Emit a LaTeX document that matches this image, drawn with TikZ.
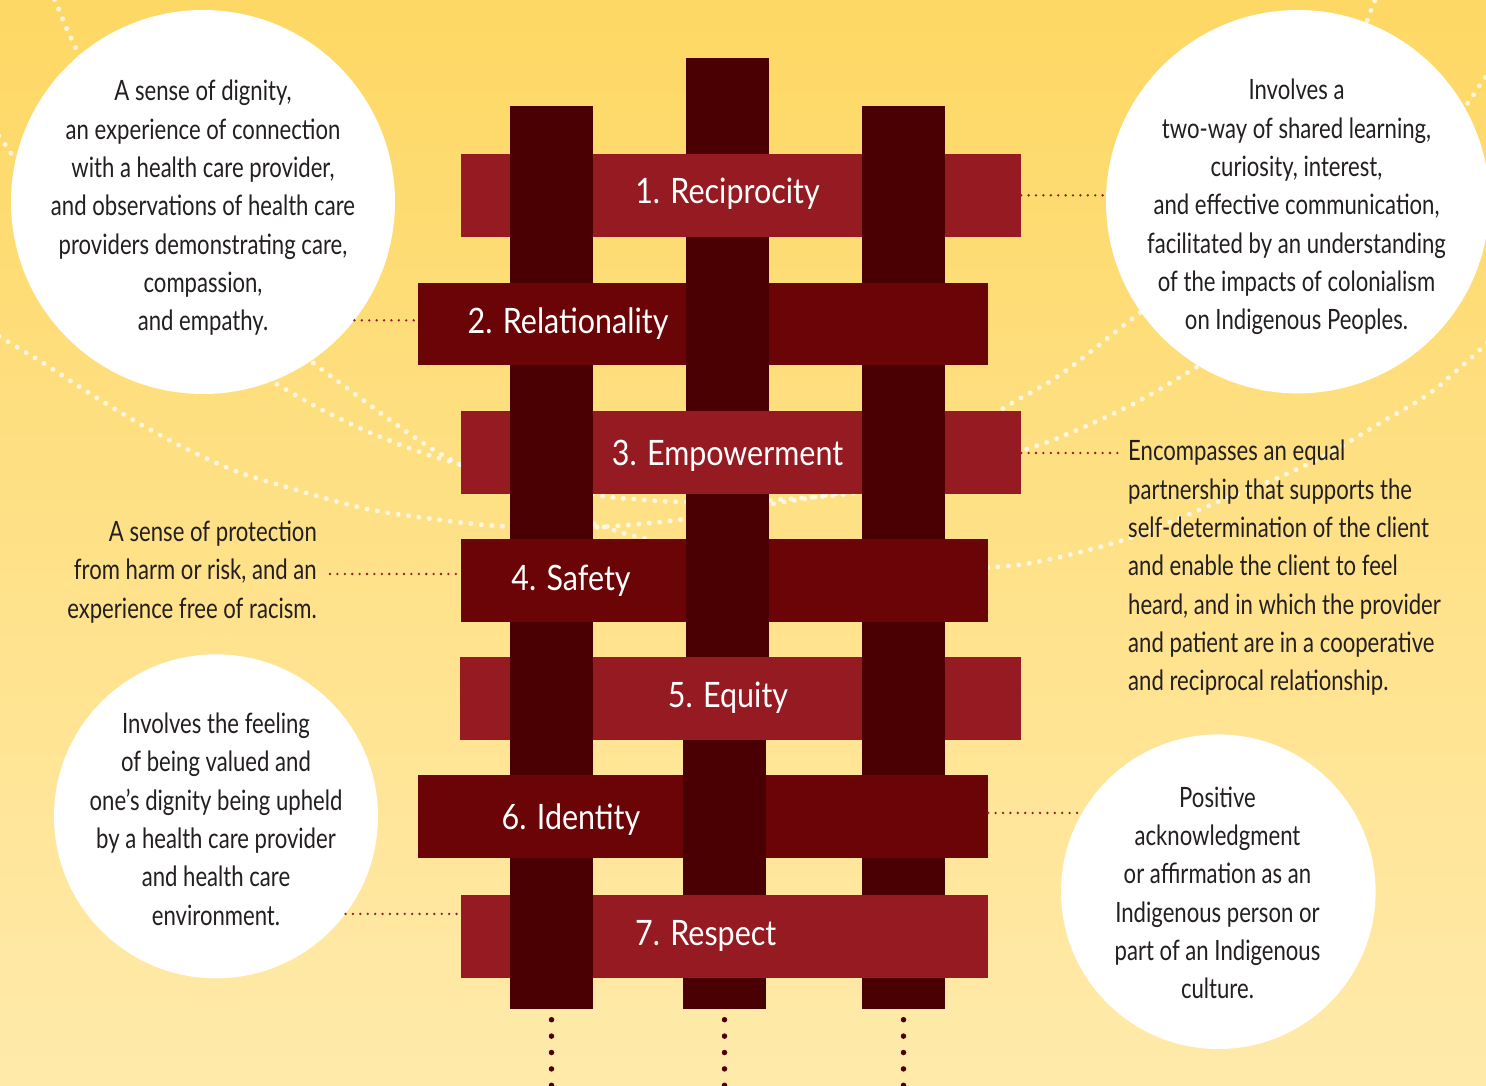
\documentclass[tikz,border=0pt]{standalone}
\usepackage{fontspec}
\setmainfont[FakeStretch=0.79]{Lato}
\newfontfamily\lblfont[FakeStretch=0.87]{Lato}
\definecolor{bgtop}{HTML}{FED864}
\definecolor{bgbot}{HTML}{FFEAAB}
\definecolor{vbar}{HTML}{4A0003}
\definecolor{hbright}{HTML}{961A21}
\definecolor{hdark}{HTML}{6B0407}
\definecolor{txt}{HTML}{231F20}
\tikzset{
  vbarbox/.style={fill=vbar, draw=none, inner sep=0pt, minimum width=83pt},
  brightrow/.style={fill=hbright, draw=none, inner sep=0pt, minimum height=82.6pt},
  darkrow/.style={fill=hdark, draw=none, inner sep=0pt, minimum height=82.6pt},
  bubble/.style={circle, fill=white, draw=none, inner sep=0pt},
  bodytext/.style={text=txt, inner sep=0pt, font=\fontsize{28}{38.33}\selectfont},
  lbl/.style={text=white, inner sep=0pt, font=\lblfont\fontsize{35}{40}\selectfont},
  reddots/.style={draw=hbright, line width=2.6pt, line cap=round, dash pattern=on 0pt off 7.4pt},
  darkdots/.style={draw=vbar, line width=5.5pt, line cap=round, dash pattern=on 0pt off 16.4pt},
  whitedots/.style={draw=white, draw opacity=0.75, line width=5pt, line cap=round, dash pattern=on 0pt off 10.5pt}
}
\begin{document}
\begin{tikzpicture}[x=1pt,y=-1pt]
\useasboundingbox (0,0) rectangle (1486,1086);
\shade[top color=bgtop, bottom color=bgbot] (0,0) rectangle (1486,1086);
% decorative dotted arcs
\begin{scope}
\clip (0,0) rectangle (1486,1086);
\draw[whitedots] plot[smooth] coordinates {(50,-10) (57,5) (65,25) (72,40) (80,58) (90,80)};
\draw[whitedots] plot[smooth] coordinates {(-8,128) (5,144) (13,156) (25,170)};
\draw[whitedots] plot[smooth] coordinates {(-10,331) (40,361) (100,400) (167,439) (233,470) (300,491) (367,509) (433,519) (500,526) (597,527) (685,519) (772,504) (858,488) (940,452) (1002,409) (1060,375) (1137,315) (1180,285)};
\draw[whitedots] plot[smooth] coordinates {(250,368) (275,383) (313,405) (353,425) (393,442) (423,453) (445,460) (530,483) (602,496) (645,500) (678,502) (725,503) (772,500) (815,497) (858,492) (950,470) (1030,448) (1077,430) (1137,402) (1195,368) (1230,345)};
\draw[whitedots] plot[smooth] coordinates {(290,342) (312,362) (347,388) (390,420) (423,443) (457,463) (540,505) (623,533) (643,538) (700,553) (820,572) (995,567) (1060,557) (1130,538) (1180,518) (1230,497) (1280,477) (1330,453) (1380,423) (1430,393) (1483,347) (1500,330)};
\draw[whitedots] plot[smooth] coordinates {(1360,40) (1367,21) (1375,0) (1380,-10)};
\draw[whitedots] plot[smooth] coordinates {(1455,120) (1470,100) (1482,82) (1495,65)};
\end{scope}
% bubbles
\node[bubble, minimum size=384pt] (c1) at (203,202) {};
\node[bubble, minimum size=383.4pt] (c2) at (1297.7,201.7) {};
\node[bubble, minimum size=324pt] (c3) at (216,816.3) {};
\node[bubble, minimum size=314.6pt] (c4) at (1218.3,891.7) {};
% vertical bars
\node[vbarbox, minimum height=903pt] (vL) at (551.5,557.5) {};
\node[vbarbox, minimum height=640pt] (vM) at (727.5,378) {};
\node[vbarbox, minimum height=311pt] (vMb) at (724.5,853.5) {};
\node[vbarbox, minimum height=903pt] (vR) at (903.5,557.5) {};
% horizontal rows
\node[brightrow, minimum width=560pt] (r1) at (741,195.35) {};
\node[darkrow, minimum width=570pt] (r2) at (703,324.15) {};
\node[brightrow, minimum width=560pt] (r3) at (741,452.35) {};
\node[darkrow, minimum width=527pt] (r4) at (724.5,580.2) {};
\node[brightrow, minimum width=561pt] (r5) at (740.5,698.25) {};
\node[darkrow, minimum width=570pt] (r6) at (703,816.3) {};
\node[brightrow, minimum width=527pt] (r7) at (724.5,936.3) {};
% weave: vertical strands passing over rows
\foreach \v/\r in {vL/r1,vR/r1,vM/r2,vL/r3,vR/r3,vM/r4,vL/r5,vR/r5,vMb/r6,vL/r7}
  \fill[vbar] (\v.west |- \r.north) rectangle (\v.east |- \r.south);
% row labels
\node[lbl, anchor=base] (l1) at (727.5,204) {1. Reciprocity};
\node[lbl, anchor=base] (l2) at (568,333) {2. Relationality};
\node[lbl, anchor=base] (l3) at (727.5,465) {3. Empowerment};
\node[lbl, anchor=base] (l4) at (571,590) {4. Safety};
\node[lbl, anchor=base] (l5) at (728,707) {5. Equity};
\node[lbl, anchor=base] (l6) at (571,829) {6. Identity};
\node[lbl, anchor=base] (l7) at (705.7,945) {7. Respect};
% descriptions
\node[bodytext, align=center] (t2) at (203,208) {A sense of dignity,\\an experience of connection\\with a health care provider,\\and observations of health care\\providers demonstrating care,\\compassion,\\and empathy.};
\node[bodytext, align=center] (t1) at (1296.5,207) {Involves a\\two-way of shared learning,\\curiosity, interest,\\and effective communication,\\facilitated by an understanding\\of the impacts of colonialism\\on Indigenous Peoples.};
\node[bodytext, align=right, anchor=east] (t4) at (317,572) {A sense of protection\\from harm or risk, and an\\experience free of racism.};
\node[bodytext, align=left, anchor=west] (t3) at (1128,568) {Encompasses an equal\\partnership that supports the\\self-determination of the client\\and enable the client to feel\\heard, and in which the provider\\and patient are in a cooperative\\and reciprocal relationship.};
\node[bodytext, align=center] (t7) at (216,819) {Involves the feeling\\of being valued and\\one’s dignity being upheld\\by a health care provider\\and health care\\environment.};
\node[bodytext, align=center] (t6) at (1217.5,893) {Positive\\acknowledgment\\or affirmation as an\\Indigenous person or\\part of an Indigenous\\culture.};
% connectors
\coordinate (d3) at (1118,453);
\coordinate (d4) at (330,574);
\coordinate (bot) at (0,1092);
\draw[reddots] (r1.east) -- (r1.east -| c2.west);
\draw[reddots] (c1.-38) -- (c1.-38 -| r2.west);
\draw[reddots] (r3.east |- d3) -- (d3);
\draw[reddots] (d4) -- (d4 -| r4.west);
\draw[reddots] (r6.east |- c4.150) -- (c4.150);
\draw[reddots] (c3.-37) -- (c3.-37 -| r7.west);
\draw[darkdots] ([yshift=-10.5pt]vL.south) -- (vL.south |- bot);
\draw[darkdots] ([yshift=-10.5pt]vMb.south) -- (vMb.south |- bot);
\draw[darkdots] ([yshift=-10.5pt]vR.south) -- (vR.south |- bot);
\end{tikzpicture}
\end{document}
